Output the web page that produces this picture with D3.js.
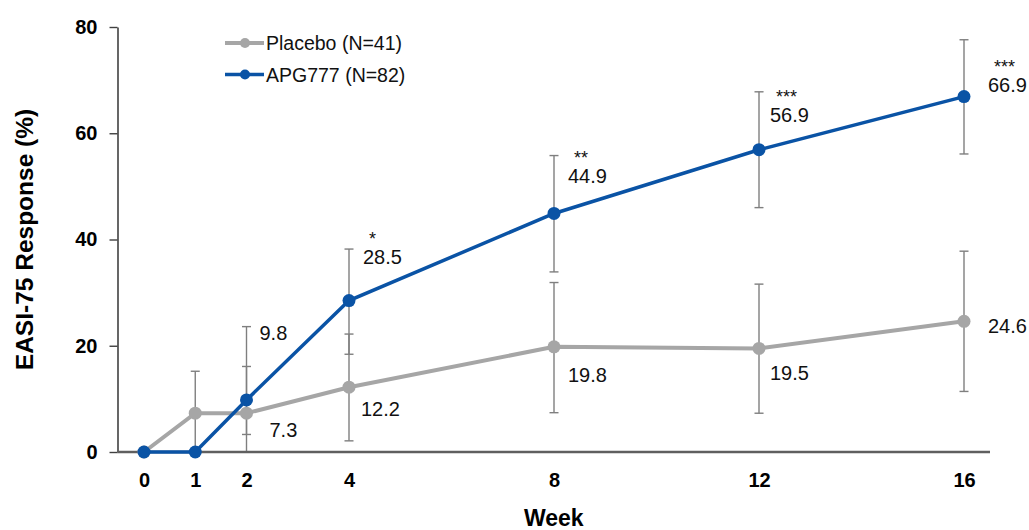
<!DOCTYPE html>
<html>
<head>
<meta charset="utf-8">
<script src="https://cdn.jsdelivr.net/npm/d3@7"></script>
<style>
  body { margin: 0; background: #fff; }
  svg { font-family: "Liberation Sans", Arial, sans-serif; }
</style>
</head>
<body>
<div id="chart"></div>
<script>
// data
const weeks = [0, 1, 2, 4, 8, 12, 16];
const placebo = [0, 7.3, 7.3, 12.2, 19.8, 19.5, 24.6];
const placeboLow = [null, 0, 0, 2.1, 7.4, 7.3, 11.4];
const placeboHigh = [null, 15.2, 16.1, 22.2, 31.9, 31.6, 37.8];
const apg = [0, 0, 9.8, 28.5, 44.9, 56.9, 66.9];
const apgLow = [null, null, 3.3, 18.4, 33.9, 46.0, 56.1];
const apgHigh = [null, null, 23.6, 38.2, 55.8, 67.8, 77.6];
const apgStars = ["", "", "", "*", "**", "***", "***"];
const yTicks = [0, 20, 40, 60, 80];
const seriesNames = ["Placebo (N=41)", "APG777 (N=82)"];

// label placement (pixels relative to the point) - layout only
const apgLabelOff = [null, null, [13, -60], [14, -37], [14, -30], [11, -28], [24, -5]];
const placeboLabelOff = [null, null, [23, 24], [12, 29], [14, 35], [11, 32], [24, 12]];

const W = 1029, H = 530;
const grey = "#a6a6a6", blue = "#0a53a5", errCol = "#7f7f7f";

const svg = d3.select("#chart").append("svg")
  .attr("width", W).attr("height", H);

const x = d3.scaleLinear().domain([0, 16]).range([144, 964]);
const y = d3.scaleLinear().domain([0, 80]).range([452, 27]);
const axisLeftX = 117.5, axisRightX = 990;

// y axis
const yAxis = svg.append("g")
  .attr("transform", `translate(${axisLeftX},0)`)
  .call(d3.axisLeft(y).tickValues(yTicks).tickSize(8).tickPadding(12).tickSizeOuter(0));
yAxis.select(".domain").attr("stroke", "#404040").attr("stroke-width", 1.6);
yAxis.selectAll(".tick line").attr("stroke", "#404040").attr("stroke-width", 1.4);
yAxis.selectAll(".tick text")
  .attr("font-size", 20).attr("font-weight", "bold").attr("fill", "#000")
  .attr("font-family", "Liberation Sans, Arial, sans-serif");

// x axis
const xAxis = svg.append("g")
  .attr("transform", `translate(0,${y(0)})`)
  .call(d3.axisBottom(x).tickValues(weeks).tickSize(0).tickFormat(d3.format("d")));
xAxis.select(".domain").remove();
xAxis.selectAll(".tick text")
  .attr("y", 35).attr("dy", null)
  .attr("font-size", 20).attr("font-weight", "bold").attr("fill", "#000")
  .attr("font-family", "Liberation Sans, Arial, sans-serif");

// error bars
function drawErr(lo, hi) {
  weeks.forEach((w, i) => {
    if (lo[i] == null || hi[i] == null) return;
    const g = svg.append("g").attr("stroke", errCol).attr("stroke-width", 1.4);
    g.append("line").attr("x1", x(w)).attr("x2", x(w)).attr("y1", y(lo[i])).attr("y2", y(hi[i]));
    [lo[i], hi[i]].forEach(v => {
      g.append("line").attr("x1", x(w) - 4.5).attr("x2", x(w) + 4.5).attr("y1", y(v)).attr("y2", y(v));
    });
  });
}
drawErr(placeboLow, placeboHigh);
drawErr(apgLow, apgHigh);

// axis line over the error bar ends
svg.append("line")
  .attr("x1", axisLeftX).attr("x2", axisRightX)
  .attr("y1", y(0)).attr("y2", y(0))
  .attr("stroke", "#5f5f5f").attr("stroke-width", 2.6);

const line = d3.line().x((d, i) => x(weeks[i])).y(d => y(d));

function drawSeries(vals, col, width) {
  svg.append("path").datum(vals)
    .attr("d", line).attr("fill", "none")
    .attr("stroke", col).attr("stroke-width", width);
  svg.append("g").selectAll("circle").data(vals).enter().append("circle")
    .attr("cx", (d, i) => x(weeks[i])).attr("cy", d => y(d))
    .attr("r", 6.5).attr("fill", col);
}
drawSeries(placebo, grey, 4);
drawSeries(apg, blue, 3.5);

// value labels
function drawLabels(vals, offs, stars) {
  vals.forEach((v, i) => {
    if (!offs[i]) return;
    const px = x(weeks[i]) + offs[i][0], py = y(v) + offs[i][1];
    svg.append("text").attr("x", px).attr("y", py)
      .attr("font-size", 20).attr("fill", "#111").text(d3.format(".1f")(v));
    if (stars && stars[i]) {
      svg.append("text").attr("x", px + 6).attr("y", py - 19)
        .attr("font-size", 18).attr("fill", "#111").text(stars[i]);
    }
  });
}
drawLabels(placebo, placeboLabelOff, null);
drawLabels(apg, apgLabelOff, apgStars);

// axis titles
svg.append("text")
  .attr("transform", `translate(33,${(y(0) + y(80)) / 2}) rotate(-90)`)
  .attr("text-anchor", "middle")
  .attr("font-size", 24.5).attr("font-weight", "bold").attr("fill", "#000")
  .text("EASI-75 Response (%)");
svg.append("text")
  .attr("x", (axisLeftX + axisRightX) / 2).attr("y", 526)
  .attr("text-anchor", "middle")
  .attr("font-size", 23).attr("font-weight", "bold").attr("fill", "#000")
  .text("Week");

// legend
const legend = svg.append("g").attr("transform", "translate(225,43)");
[grey, blue].forEach((col, i) => {
  const g = legend.append("g").attr("transform", `translate(0,${i * 31.5})`);
  g.append("line").attr("x1", 0).attr("x2", 39).attr("y1", 0).attr("y2", 0)
    .attr("stroke", col).attr("stroke-width", i ? 3.5 : 4);
  g.append("circle").attr("cx", 20).attr("cy", 0).attr("r", 5).attr("fill", col);
  g.append("text").attr("x", 41).attr("y", 7)
    .attr("font-size", 19.5).attr("fill", "#111").text(seriesNames[i]);
});
</script>
</body>
</html>
